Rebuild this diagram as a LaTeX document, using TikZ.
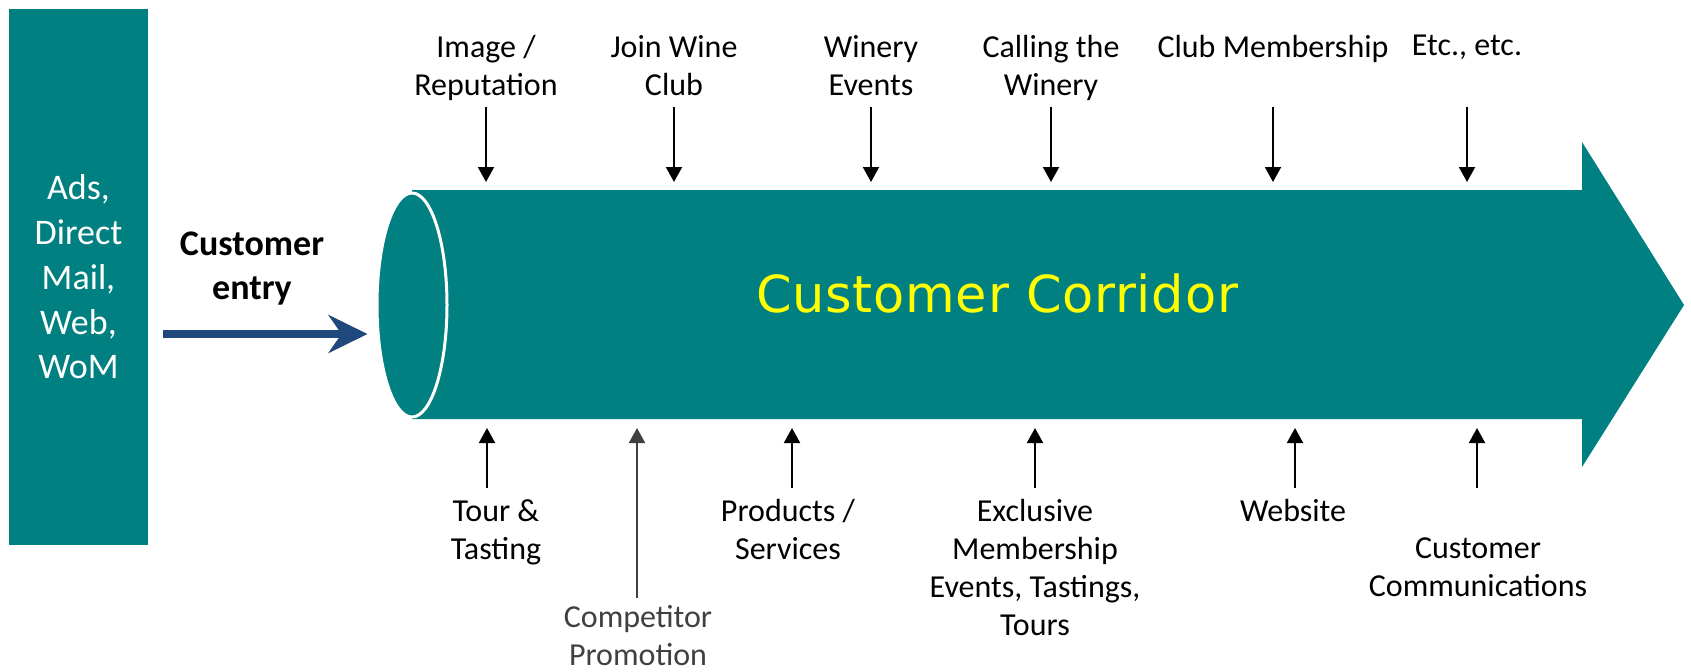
\documentclass[tikz,border=0pt]{standalone}
\usepackage{fontspec}
\setmainfont{Carlito}
\newfontfamily\titlefont[LetterSpace=1.5]{DejaVu Sans}
\usetikzlibrary{arrows.meta,shapes.geometric}

\begin{document}
\begin{tikzpicture}[
	x=0.5pt, y=-0.5pt,
	source/.style={fill=corrteal, text=white, minimum width=69.5pt, minimum height=268pt, inner sep=0pt, align=center, font=\fontsize{18}{22.4}\selectfont},
	corridor/.style={fill=corrteal, draw=none},
	mouth/.style={ellipse, fill=corrteal, draw=white, line width=1.5pt, minimum width=35pt, minimum height=112pt, inner sep=0pt},
	title/.style={anchor=base, text=corryellow, font=\titlefont\fontsize{25.5}{30}\selectfont},
	entry/.style={draw=entryblue, line width=4pt, shorten >=4pt, -{Stealth[length=19.5pt, width=19pt, inset=6.5pt]}},
	entrytext/.style={anchor=north, align=center, inner sep=0pt, font=\bfseries\fontsize{18}{22}\selectfont},
	feed/.style={line width=1pt, -{Triangle[length=7.5pt, width=8pt]}},
	factor/.style={anchor=north, align=center, inner sep=0pt, font=\fontsize{16}{19}\selectfont},
	rival/.style={draw=rivalgray, text=rivalgray}
	]
		\definecolor{corrteal}{RGB}{0, 128, 128}
		\definecolor{corryellow}{RGB}{255, 255, 0}
		\definecolor{entryblue}{RGB}{31, 73, 125}
		\definecolor{rivalgray}{RGB}{64, 64, 64}

	\useasboundingbox (0,0) rectangle (1691,671);

	% sources
	\node[source] (src) at (78.5,277) {Ads,\\Direct\\Mail,\\Web,\\WoM};

	% corridor body and head
	\path[corridor] (412,190) -- (1582,190) -- (1582,142) -- (1684,305) -- (1582,467) -- (1582,419) -- (412,419) -- cycle;
	\node[mouth] (mouth) at (412,305) {};
	\node[title] (title) at (997,312) {Customer Corridor};

	% customer entry
	\node[entrytext] (entry label) at (252,231) {Customer\\entry};
	\coordinate (entry start) at (163,334);
	\draw[entry] (entry start) -- (entry start -| mouth.west);

	% tips of the feeding arrows
	\coordinate (hit top) at (0,182);
	\coordinate (hit bot) at (0,428);

	% factors from above
	\foreach \x/\t [count=\i] in {486/{Image /\\Reputation}, 674/{Join Wine\\Club}, 871/{Winery\\Events}, 1051/{Calling the\\Winery}, 1273/{Club Membership}, 1467/{Etc., etc.}} {
		\node[factor] (up\i) at (\x,35) {\t};
		\coordinate (up tail\i) at (\x,107);
		\draw[feed] (up tail\i) -- (up tail\i |- hit top);
	}

	% factors from below
	\foreach \ax/\lx/\ly/\t [count=\i] in {487/496/499/{Tour \&\\Tasting}, 792/788/499/{Products /\\Services}, 1035/1035/499/{Exclusive\\Membership\\Events, Tastings,\\Tours}, 1295/1293/499/{Website}, 1477/1478/537/{Customer\\Communications}} {
		\node[factor] (down\i) at (\lx,\ly) {\t};
		\coordinate (down tail\i) at (\ax,488);
		\draw[feed] (down tail\i) -- (down tail\i |- hit bot);
	}

	% competitor
	\node[factor, rival, draw=none] (rival) at (638,605) {Competitor\\Promotion};
	\coordinate (rival tail) at (637,598);
	\draw[feed, rival] (rival tail) -- (rival tail |- hit bot);
\end{tikzpicture}
\end{document}
